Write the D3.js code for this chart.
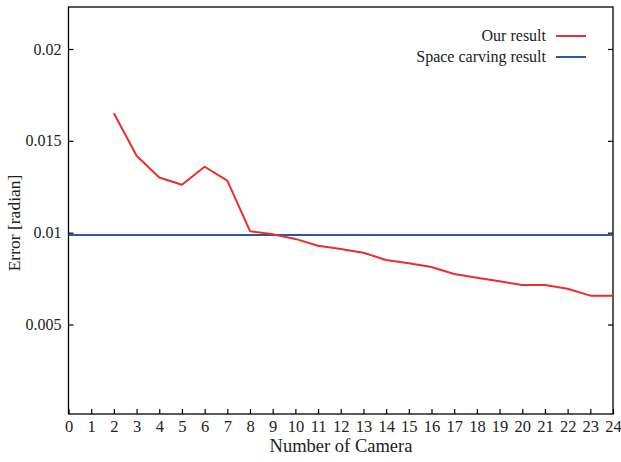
<!DOCTYPE html>
<html lang="en">
<head>
  <meta charset="UTF-8">
  <title>Error vs Number of Camera</title>
  <script src="https://d3js.org/d3.v7.min.js"></script>
  <style>
    body { margin: 0; background: #fff; }
    svg text { font-family: "Liberation Serif", "DejaVu Serif", serif; fill: #222; }
  </style>
</head>
<body>
  <div id="chart"></div>
  <script>
    // data
    const cameras = [2, 3, 4, 5, 6, 7, 8, 9, 10, 11, 12, 13, 14, 15, 16, 17, 18, 19, 20, 21, 22, 23, 24];
    const ourResult = [0.0165, 0.01419, 0.0130, 0.01261, 0.01359, 0.01283, 0.01008, 0.00991, 0.00966,
                       0.00929, 0.00911, 0.00891, 0.00851, 0.00833, 0.00813, 0.00775, 0.00755, 0.00735,
                       0.00715, 0.00715, 0.00695, 0.00657, 0.00657];
    const spaceCarving = 0.00987;
    const xTicks = d3.range(0, 25);
    const yTicks = [0.005, 0.01, 0.015, 0.02];
    const seriesNames = ["Our result", "Space carving result"];
    const seriesColors = ["#ec2d2d", "#2b59a6"];

    const width = 621, height = 462;
    const m = { left: 68.5, right: 613, top: 7, bottom: 414 };

    const svg = d3.select("#chart").append("svg")
      .attr("width", width).attr("height", height);

    const x = d3.scaleLinear().domain([0, 24]).range([m.left, m.right]);
    const y = d3.scaleLinear().domain([0.005, 0.02]).range([324.5, 49]);

    // frame
    svg.append("rect")
      .attr("x", m.left).attr("y", m.top)
      .attr("width", m.right - m.left).attr("height", m.bottom - m.top)
      .attr("fill", "none").attr("stroke", "#000").attr("stroke-width", 1.3);

    // bottom axis, ticks pointing inward
    const xAxis = svg.append("g")
      .attr("transform", `translate(0,${m.bottom})`)
      .call(d3.axisBottom(x).tickValues(xTicks).tickSize(-5).tickPadding(6).tickFormat(d3.format("d")));
    xAxis.select(".domain").remove();
    xAxis.selectAll("text").attr("font-size", 16.5).attr("fill", "#222");
    xAxis.selectAll("line").attr("stroke-width", 1.2);

    // left axis
    const yAxis = svg.append("g")
      .attr("transform", `translate(${m.left},0)`)
      .call(d3.axisLeft(y).tickValues(yTicks).tickSize(-5).tickPadding(7).tickFormat(d => String(+d.toFixed(3))));
    yAxis.select(".domain").remove();
    yAxis.selectAll("text").attr("font-size", 16).attr("fill", "#222");
    yAxis.selectAll("line").attr("stroke-width", 1.2);

    // right side ticks
    const yRight = svg.append("g")
      .attr("transform", `translate(${m.right},0)`)
      .call(d3.axisRight(y).tickValues(yTicks).tickSize(-5).tickFormat(""));
    yRight.select(".domain").remove();
    yRight.selectAll("line").attr("stroke-width", 1.2);

    // space carving horizontal line
    svg.append("line")
      .attr("x1", x(0)).attr("x2", x(24))
      .attr("y1", y(spaceCarving)).attr("y2", y(spaceCarving))
      .attr("stroke", seriesColors[1]).attr("stroke-width", 2);

    // our result line
    const line = d3.line()
      .x((d, i) => x(cameras[i]))
      .y(d => y(d));
    svg.append("path")
      .datum(ourResult)
      .attr("d", line)
      .attr("fill", "none")
      .attr("stroke", seriesColors[0])
      .attr("stroke-width", 2)
      .attr("stroke-linejoin", "round");

    // legend
    seriesNames.forEach((name, i) => {
      const ly = 36 + i * 21;
      svg.append("text")
        .attr("x", 546).attr("y", ly)
        .attr("dy", "0.32em")
        .attr("text-anchor", "end")
        .attr("font-size", 16)
        .text(name);
      svg.append("line")
        .attr("x1", 556).attr("x2", 586)
        .attr("y1", ly).attr("y2", ly)
        .attr("stroke", seriesColors[i]).attr("stroke-width", 2);
    });

    // axis titles
    svg.append("text")
      .attr("x", 341).attr("y", 452)
      .attr("text-anchor", "middle")
      .attr("font-size", 18.5)
      .text("Number of Camera");

    svg.append("text")
      .attr("transform", "translate(20,223) rotate(-90)")
      .attr("text-anchor", "middle")
      .attr("font-size", 17.5)
      .text("Error [radian]");
  </script>
</body>
</html>
